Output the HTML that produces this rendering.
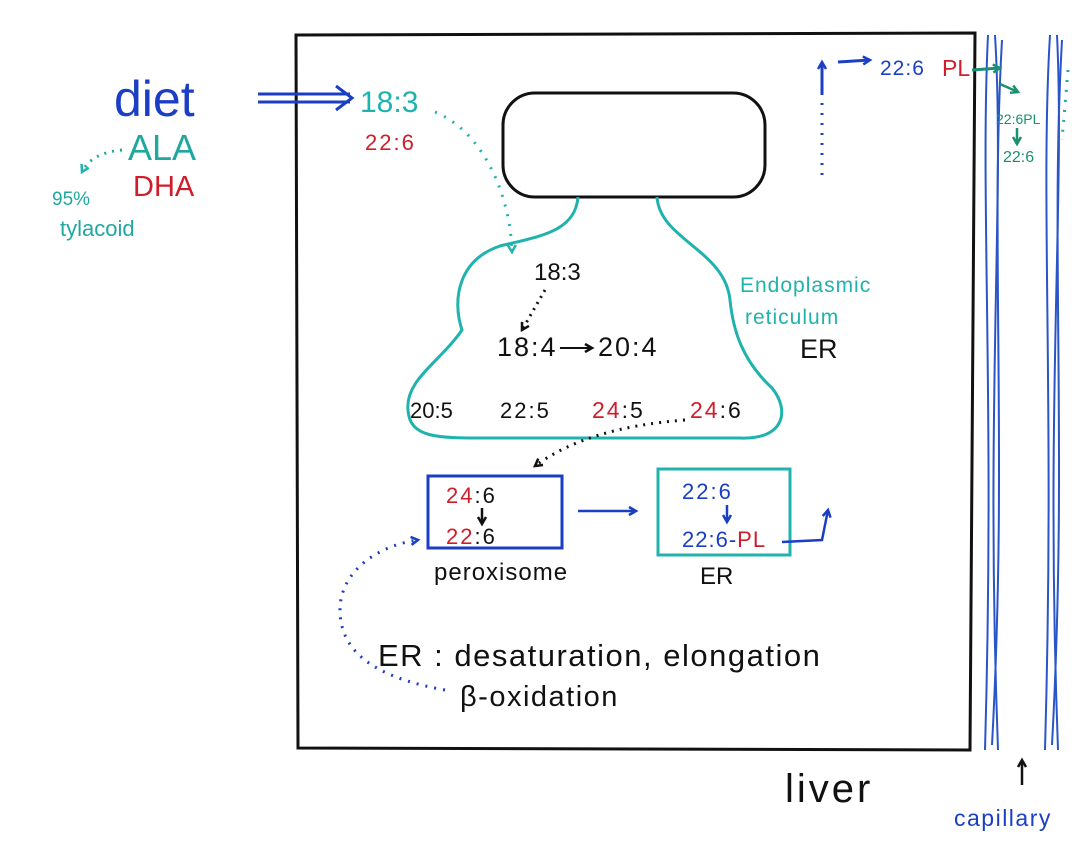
<!DOCTYPE html>
<html><head><meta charset="utf-8"><style>
html,body{margin:0;padding:0;background:#fff;}
svg{display:block;}
text{font-family:"Liberation Sans",sans-serif;}
</style></head><body>
<svg width="1072" height="857" viewBox="0 0 1072 857" xmlns="http://www.w3.org/2000/svg">
<defs>
<marker id="ab" markerUnits="userSpaceOnUse" markerWidth="12" markerHeight="12" refX="9" refY="6" orient="auto"><path d="M2,2 L9,6 L2,10" fill="none" stroke="#1a3fc4" stroke-width="2.5"/></marker>
<marker id="ak" markerUnits="userSpaceOnUse" markerWidth="12" markerHeight="12" refX="9" refY="6" orient="auto"><path d="M2,2 L9,6 L2,10" fill="none" stroke="#111" stroke-width="2.5"/></marker>
<marker id="at" markerUnits="userSpaceOnUse" markerWidth="12" markerHeight="12" refX="9" refY="6" orient="auto"><path d="M2,2 L9,6 L2,10" fill="none" stroke="#20b3ad" stroke-width="2.5"/></marker>
<marker id="ag" markerUnits="userSpaceOnUse" markerWidth="12" markerHeight="12" refX="9" refY="6" orient="auto"><path d="M2,2 L9,6 L2,10" fill="none" stroke="#1a9070" stroke-width="2.5"/></marker>
</defs>
<path d="M296,35 L975,33 L970,750 L298,748 Z" fill="none" stroke="#111" stroke-width="3"/>
<g fill="none" stroke="#2a55c8" stroke-width="2">
<path d="M988,35 C980,200 995,400 985,750"/><path d="M995,35 C1005,200 985,400 998,750"/>
<path d="M1002,40 C990,250 1008,450 992,745"/>
<path d="M1050,35 C1040,200 1055,400 1045,750"/><path d="M1057,35 C1065,200 1045,400 1058,750"/>
<path d="M1062,40 C1050,250 1068,450 1052,745"/>
</g>
<rect x="503" y="93" width="262" height="104" rx="32" fill="none" stroke="#111" stroke-width="3"/>
<path d="M578,197 C575,232 540,236 500,246 C458,260 452,300 462,330 C440,362 405,380 408,410 C410,440 440,438 500,438 L740,438 C785,440 790,410 772,388 C742,360 733,330 730,300 C725,250 660,240 657,197" fill="none" stroke="#20b3ad" stroke-width="3"/>
<path d="M258,94 L350,94 M258,102 L350,102" stroke="#1a3fc4" stroke-width="3"/>
<path d="M336,86 L352,98 L336,110" fill="none" stroke="#1a3fc4" stroke-width="3"/>
<text x="114" y="116" font-size="50" fill="#1a3fc4">diet</text>
<text x="128" y="160" font-size="36" fill="#20a8a0">ALA</text>
<text x="133" y="196" font-size="29" fill="#d01d2a">DHA</text>
<text x="52" y="205" font-size="19" fill="#20a8a0">95%</text>
<text x="60" y="236" font-size="22" fill="#20a8a0">tylacoid</text>
<path d="M122,150 C100,152 88,160 82,172" fill="none" stroke="#20a8a0" stroke-width="3" stroke-dasharray="2,6" marker-end="url(#at)"/>
<text x="360" y="112" font-size="30" fill="#20b3ad">18:3</text>
<text x="365" y="150" font-size="22" fill="#d01d2a" letter-spacing="2">22:6</text>
<path d="M435,112 C480,130 510,190 512,252" fill="none" stroke="#20b3ad" stroke-width="3" stroke-dasharray="2,8" marker-end="url(#at)"/>
<text x="534" y="280" font-size="24" fill="#111">18:3</text>
<path d="M545,290 L522,330" stroke="#111" stroke-width="3" stroke-dasharray="2,5" marker-end="url(#ak)"/>
<text x="497" y="356" font-size="27" fill="#111" letter-spacing="2">18:4</text>
<path d="M560,348 L592,348" stroke="#111" stroke-width="2" marker-end="url(#ak)"/>
<text x="598" y="356" font-size="27" fill="#111" letter-spacing="2">20:4</text>
<text x="410" y="418" font-size="22" fill="#111">20:5</text>
<text x="500" y="418" font-size="22" fill="#111" letter-spacing="2">22:5</text>
<text x="592" y="418" font-size="23" letter-spacing="2"><tspan fill="#d01d2a">24</tspan><tspan fill="#111">:5</tspan></text>
<text x="690" y="418" font-size="23" letter-spacing="2"><tspan fill="#d01d2a">24</tspan><tspan fill="#111">:6</tspan></text>
<path d="M685,420 C620,425 570,440 535,466" fill="none" stroke="#111" stroke-width="3" stroke-dasharray="2,6" marker-end="url(#ak)"/>
<text x="740" y="292" font-size="21" fill="#20b3ad" letter-spacing="1">Endoplasmic</text>
<text x="745" y="324" font-size="21" fill="#20b3ad" letter-spacing="1">reticulum</text>
<text x="800" y="358" font-size="27" fill="#111">ER</text>
<rect x="428" y="476" width="134" height="72" fill="none" stroke="#1a3fc4" stroke-width="3"/>
<text x="446" y="503" font-size="22" letter-spacing="2"><tspan fill="#d01d2a">24</tspan><tspan fill="#111">:6</tspan></text>
<path d="M482,508 L482,524" stroke="#111" stroke-width="2.5" marker-end="url(#ak)"/>
<text x="446" y="544" font-size="22" letter-spacing="2"><tspan fill="#d01d2a">22</tspan><tspan fill="#111">:6</tspan></text>
<text x="434" y="580" font-size="24" fill="#111" letter-spacing="1">peroxisome</text>
<path d="M578,511 L636,511" stroke="#1a3fc4" stroke-width="2.5" marker-end="url(#ab)"/>
<rect x="658" y="469" width="132" height="86" fill="none" stroke="#20b3ad" stroke-width="3"/>
<text x="682" y="499" font-size="22" fill="#1a3fc4" letter-spacing="2">22:6</text>
<path d="M727,505 L727,522" stroke="#1a3fc4" stroke-width="2.5" marker-end="url(#ab)"/>
<text x="682" y="547" font-size="22" letter-spacing="1"><tspan fill="#1a3fc4">22:6-</tspan><tspan fill="#d01d2a">PL</tspan></text>
<path d="M782,542 L822,540 L828,510" fill="none" stroke="#1a3fc4" stroke-width="2.5" marker-end="url(#ab)"/>
<text x="700" y="584" font-size="24" fill="#111">ER</text>
<path d="M445,690 C390,680 340,660 340,610 C340,570 380,545 418,540" fill="none" stroke="#1a3fc4" stroke-width="3" stroke-dasharray="2,7" marker-end="url(#ab)"/>
<text x="378" y="666" font-size="31" fill="#111" letter-spacing="1.5">ER : desaturation,  elongation</text>
<text x="460" y="706" font-size="29" fill="#111" letter-spacing="1.5">β-oxidation</text>
<text x="785" y="802" font-size="40" fill="#111" letter-spacing="3">liver</text>
<text x="954" y="826" font-size="23" fill="#1a3fc4" letter-spacing="1.5">capillary</text>
<path d="M1022,785 L1022,760" stroke="#111" stroke-width="2.5" marker-end="url(#ak)"/>
<path d="M822,175 L822,80" stroke="#1a3fc4" stroke-width="3" stroke-dasharray="2,8"/>
<path d="M822,95 L822,62" stroke="#1a3fc4" stroke-width="3" marker-end="url(#ab)"/>
<path d="M838,62 L870,60" stroke="#1a3fc4" stroke-width="3" marker-end="url(#ab)"/>
<text x="880" y="75" font-size="21" fill="#1a3fc4" letter-spacing="1">22:6</text>
<text x="942" y="76" font-size="23" fill="#d01d2a">PL</text>
<path d="M972,70 L1000,68" stroke="#1a9070" stroke-width="3" marker-end="url(#ag)"/>
<path d="M1000,84 L1018,92" stroke="#1a9070" stroke-width="2.5" marker-end="url(#ag)"/>
<text x="996" y="124" font-size="14" fill="#1a9070">22:6PL</text>
<path d="M1017,128 L1017,144" stroke="#1a9070" stroke-width="2.5" marker-end="url(#ag)"/>
<text x="1003" y="162" font-size="16" fill="#1a9070">22:6</text>
<path d="M1068,70 L1062,140" stroke="#20a8a0" stroke-width="3" stroke-dasharray="2,8"/>
</svg>
</body></html>
